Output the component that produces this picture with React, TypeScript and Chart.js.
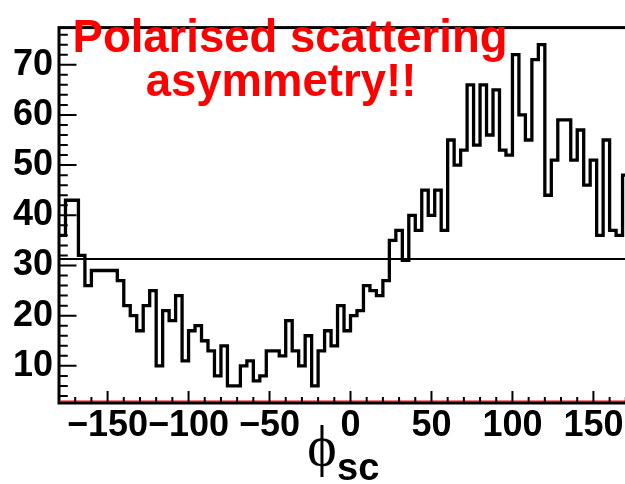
import React, { useEffect, useRef } from "react";
import { Chart, registerables } from "chart.js";

Chart.register(...registerables);

// ---- data ----
const X_MIN = -180;
const X_MAX = 180;
const BIN_WIDTH = 4;
const counts = [
  36, 43, 43, 32, 26, 29, 29, 29, 29, 27,
  22, 20, 17, 22, 25, 10, 21, 19, 24, 11,
  17, 18, 15, 13, 8, 14, 6, 6, 10, 11,
  7, 8, 13, 13, 12, 19, 13, 10, 16, 6,
  13, 17, 14, 22, 17, 20, 21, 26, 25, 24,
  27, 35, 37, 31, 40, 37, 45, 40, 45, 37,
  55, 50, 53, 66, 54, 66, 56, 65, 53, 52,
  72, 60, 55, 71, 74, 44, 51, 59, 59, 51,
  57, 46, 51, 36, 55, 37, 36, 48, 45, 40,
];
const fitConstant = 31.3;
const Y_MIN = 2.6;
const Y_MAX = 77.4;
const xTickValues = [-150, -100, -50, 0, 50, 100, 150];
const yTickValues = [10, 20, 30, 40, 50, 60, 70];
const xMinorStep = 10;
const yMinorStep = 2;
const titleLines = ["Polarised scattering", "asymmetry!!"];
const xTitleSymbol = "\u03D5";
const xTitleSub = "sc";

const SANS = "'Liberation Sans', Arial, Helvetica, sans-serif";
const NARROW = "'Liberation Sans Narrow', 'Arial Narrow', 'Liberation Sans', sans-serif";
const SERIF = "'Liberation Serif', 'DejaVu Serif', 'Times New Roman', serif";

function fmt(v: number): string {
  return v < 0 ? "\u2212" + Math.abs(v) : String(v);
}

export default function App() {
  const ref = useRef<HTMLCanvasElement>(null);

  useEffect(() => {
    const canvas = ref.current;
    if (!canvas) return;

    const histPoints = counts.map((c, i) => ({ x: X_MIN + i * BIN_WIDTH, y: c }));
    histPoints.push({ x: X_MAX, y: counts[counts.length - 1] });

    const rootPlugin = {
      id: "rootDecor",
      afterDatasetsDraw(chart: any) {
        const { ctx, chartArea: a, scales } = chart;
        const xs = scales.x;
        const ys = scales.y;
        ctx.save();
        // frame
        ctx.strokeStyle = "#000";
        ctx.lineWidth = 3;
        ctx.strokeRect(a.left, a.top, a.right - a.left, a.bottom - a.top);
        // red baseline
        ctx.strokeStyle = "#ff0000";
        ctx.lineWidth = 1.6;
        ctx.beginPath();
        ctx.moveTo(a.left + 1.5, a.bottom - 1.7);
        ctx.lineTo(a.right, a.bottom - 1.7);
        ctx.stroke();
        // ticks
        ctx.strokeStyle = "#000";
        ctx.lineWidth = 2;
        ctx.beginPath();
        for (let v = X_MIN + xMinorStep; v < X_MAX; v += xMinorStep) {
          const px = xs.getPixelForValue(v);
          const len = v % 50 === 0 ? 12 : 6;
          ctx.moveTo(px, a.bottom);
          ctx.lineTo(px, a.bottom - len);
        }
        for (let v = 4; v <= 76; v += yMinorStep) {
          const py = ys.getPixelForValue(v);
          const len = v % 10 === 0 ? 17.5 : 8.75;
          ctx.moveTo(a.left, py);
          ctx.lineTo(a.left + len, py);
        }
        ctx.stroke();
        // title
        ctx.fillStyle = "#ff0000";
        ctx.font = `bold 45.5px ${SANS}`;
        ctx.textAlign = "center";
        ctx.textBaseline = "alphabetic";
        ctx.fillText(titleLines[0], 290, 52);
        ctx.fillText(titleLines[1], 281, 96);
        // x axis title
        ctx.fillStyle = "#000";
        ctx.textAlign = "center";
        ctx.font = `56px ${SERIF}`;
        ctx.fillText(xTitleSymbol, 322, 465);
        ctx.textAlign = "left";
        ctx.font = `bold 38px ${NARROW}`;
        ctx.fillText(xTitleSub, 337, 480);
        ctx.restore();
      },
    };

    const chart = new Chart(canvas, {
      type: "line",
      data: {
        datasets: [
          {
            data: histPoints,
            borderColor: "#000",
            borderWidth: 3.3,
            stepped: "before",
            pointRadius: 0,
            fill: false,
            borderJoinStyle: "miter",
            borderCapStyle: "butt",
          },
          {
            data: [
              { x: X_MIN, y: fitConstant },
              { x: X_MAX, y: fitConstant },
            ],
            borderColor: "#000",
            borderWidth: 2,
            pointRadius: 0,
            fill: false,
          },
        ],
      },
      options: {
        responsive: false,
        maintainAspectRatio: false,
        animation: false,
        layout: { padding: { top: 9, right: 18, bottom: 0, left: 0 } },
        plugins: {
          legend: { display: false },
          tooltip: { enabled: false },
          title: { display: false },
        },
        scales: {
          x: {
            type: "linear",
            min: X_MIN,
            max: X_MAX,
            grid: { display: false, drawTicks: false },
            border: { display: false },
            afterBuildTicks: (s: any) => {
              s.ticks = xTickValues.map((v) => ({ value: v }));
            },
            afterFit: (s: any) => {
              s.height = 81;
            },
            ticks: {
              autoSkip: false,
              maxRotation: 0,
              padding: 1,
              color: "#000",
              font: { family: NARROW, size: 36, weight: "bold" },
              callback: (v: any) => fmt(Number(v)),
            },
          },
          y: {
            type: "linear",
            min: Y_MIN,
            max: Y_MAX,
            grid: { display: false, drawTicks: false },
            border: { display: false },
            afterBuildTicks: (s: any) => {
              s.ticks = yTickValues.map((v) => ({ value: v }));
            },
            afterFit: (s: any) => {
              s.width = 59;
            },
            ticks: {
              autoSkip: false,
              padding: 6,
              color: "#000",
              font: { family: NARROW, size: 36, weight: "bold" },
              callback: (v: any) => fmt(Number(v)),
            },
          },
        },
      },
      plugins: [rootPlugin],
    } as any);

    return () => chart.destroy();
  }, []);

  return (
    <div
      style={{
        position: "fixed",
        left: 0,
        top: 0,
        width: 625,
        height: 484,
        overflow: "hidden",
        background: "#fff",
      }}
    >
      <canvas ref={ref} width={660} height={484} style={{ display: "block" }} />
    </div>
  );
}
